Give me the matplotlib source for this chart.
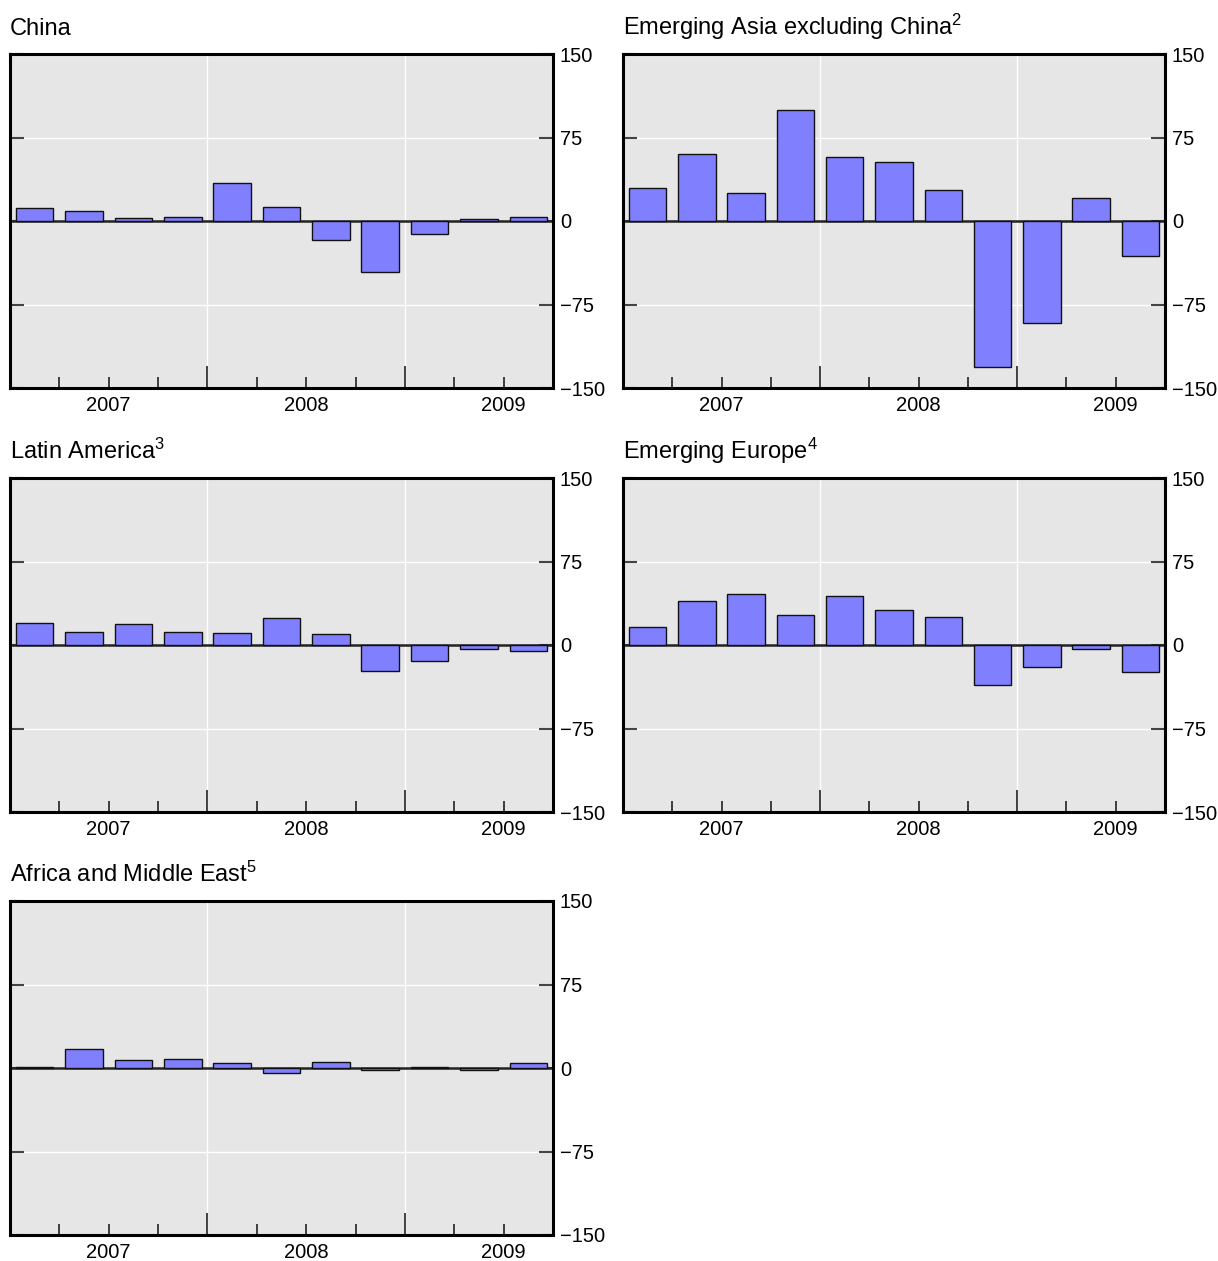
import matplotlib
matplotlib.use("Agg")
import matplotlib.pyplot as plt
import numpy as np

plt.rcParams['font.family'] = ['Liberation Sans', 'DejaVu Sans']
plt.rcParams['mathtext.fontset'] = 'custom'
plt.rcParams['mathtext.rm'] = 'Liberation Sans'
plt.rcParams['mathtext.it'] = 'Liberation Sans'
plt.rcParams['mathtext.bf'] = 'Liberation Sans'

# Quarters 2007Q1 .. 2009Q3
quarters = ["2007Q1", "2007Q2", "2007Q3", "2007Q4",
            "2008Q1", "2008Q2", "2008Q3", "2008Q4",
            "2009Q1", "2009Q2", "2009Q3"]
year_labels = ["2007", "2008", "2009"]

titles = ["China",
          r"Emerging Asia excluding China$^{\mathrm{2}}$",
          r"Latin America$^{\mathrm{3}}$",
          r"Emerging Europe$^{\mathrm{4}}$",
          r"Africa and Middle East$^{\mathrm{5}}$"]

china = [11.4, 9.3, 3.0, 3.3, 34.0, 13.0, -17.0, -46.0, -11.4, 1.8, 3.3]
emerging_asia = [30.0, 60.0, 25.5, 100.0, 57.4, 53.4, 28.0, -131.0, -92.0, 21.0, -31.0]
latin_america = [19.4, 11.8, 19.0, 11.5, 10.9, 23.9, 9.7, -23.3, -14.2, -3.9, -5.7]
emerging_europe = [16.3, 39.3, 45.4, 26.6, 44.1, 31.4, 25.1, -35.7, -20.0, -3.6, -24.2]
africa_me = [0.9, 17.2, 6.9, 8.1, 4.2, -4.2, 5.1, -1.5, 0.6, -2.1, 4.5]

series = [china, emerging_asia, latin_america, emerging_europe, africa_me]

W, H = 1218, 1261
fig = plt.figure(figsize=(W / 100, H / 100), dpi=100)

cols = [(10, 553), (623, 1165)]
rows = [(54, 388), (478, 812), (901, 1235)]

x = np.arange(len(quarters)) + 0.5
for i, (title, vals) in enumerate(zip(titles, series)):
    r, c = divmod(i, 2)
    x0, x1 = cols[c]
    y0, y1 = rows[r]
    ax = fig.add_axes([x0 / W, 1 - y1 / H, (x1 - x0) / W, (y1 - y0) / H])
    ax.set_facecolor('#e6e6e6')
    ax.bar(x, vals, width=0.76, color='#8080ff', edgecolor='#111111',
           linewidth=1.0, zorder=3)
    ax.axhline(0, color='#222222', lw=1.8, zorder=2.5)
    ax.set_xlim(0, len(quarters))
    ax.set_ylim(-150, 150)

    # y axis
    ax.set_yticks([-150, -75, 0, 75, 150])
    ax.set_yticklabels(["\u2212150", "\u221275", "0", "75", "150"])
    ax.yaxis.tick_right()
    ax.tick_params(axis='y', which='major', left=True, right=True,
                   labelleft=False, labelright=True, direction='in',
                   length=10, width=1.5, color='#444444', labelsize=14.5,
                   pad=5)

    # x axis: year boundaries as major ticks, quarter boundaries as minor
    ax.set_xticks([4, 8])
    ax.set_xticklabels([])
    ax.set_xticks([1, 2, 3, 5, 6, 7, 9, 10], minor=True)
    ax.tick_params(axis='x', which='major', direction='in', length=16,
                   width=1.2, color='#222222', bottom=True, top=False)
    ax.tick_params(axis='x', which='minor', direction='in', length=8,
                   width=1.2, color='#222222', bottom=True, top=False)

    sec = ax.secondary_xaxis('bottom')
    sec.set_xticks([2, 6, 10])
    sec.set_xticklabels(year_labels)
    sec.tick_params(length=0, labelsize=14.5, pad=6)
    sec.spines['bottom'].set_visible(False)

    ax.grid(True, which='major', color='white', lw=1.0, zorder=1)
    ax.set_axisbelow(True)

    for sp in ax.spines.values():
        sp.set_linewidth(2.2)
        sp.set_color('black')
        sp.set_zorder(5)

    ax.annotate(title, xy=(0, 1), xycoords='axes fraction',
                xytext=(0, 14), textcoords='offset points',
                ha='left', va='baseline', fontsize=17)

fig.savefig("out.png", dpi=100)
